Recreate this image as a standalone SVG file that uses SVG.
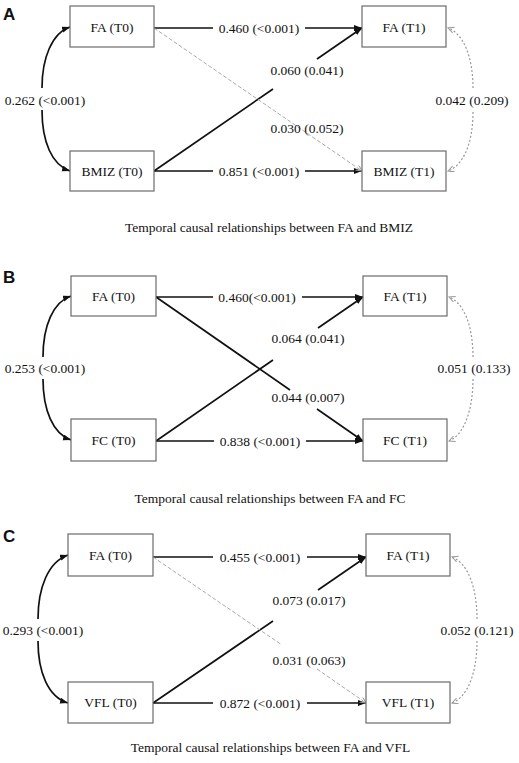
<svg xmlns="http://www.w3.org/2000/svg" width="519" height="763" viewBox="0 0 519 763">
<style>
.bg{fill:#fff}
.box{fill:#fff;stroke:#6b6b6b;stroke-width:1.2}
.t{font-family:"Liberation Serif","Times New Roman",serif;font-size:13.5px;text-anchor:middle;fill:#111}
.pl{font-family:"Liberation Sans",Arial,sans-serif;font-size:17px;font-weight:bold;fill:#111}
.s{fill:none;stroke:#111;stroke-width:1.7}
.d{fill:none;stroke:#aaa;stroke-width:1;stroke-dasharray:4 2}
.o{fill:none;stroke:#999;stroke-width:1.2;stroke-dasharray:2 2}
</style>
<defs>
<marker id="ah" markerUnits="userSpaceOnUse" markerWidth="9" markerHeight="7" refX="8" refY="3" orient="auto-start-reverse"><path d="M0,0 L8,3 L0,6 z" fill="#111"/></marker>
<marker id="ag" markerUnits="userSpaceOnUse" markerWidth="8" markerHeight="7" refX="6" refY="3" orient="auto-start-reverse"><path d="M0,0 L6,3 L0,6" fill="none" stroke="#999" stroke-width="1"/></marker>
</defs>
<rect class="bg" x="0" y="0" width="519" height="763"/>

<g id="connectors">
<!-- Panel A -->
<path class="s" d="M154,28 L213,28 M305,28 L362,28" marker-end="url(#ah)"/>
<path class="s" d="M154,171 L213,171 M305,171 L362,171" marker-end="url(#ah)"/>
<path class="s" d="M154,171 L273,89 M317,59 L362,28" marker-end="url(#ah)"/>
<path class="d" d="M154,28 L362,171" marker-end="url(#ag)"/>
<path class="s" d="M42,88 C42,58 52,33 70,27" marker-end="url(#ah)"/>
<path class="s" d="M42,110 C42,142 52,165 70,171" marker-end="url(#ah)"/>
<path class="o" d="M473,88 C473,58 464,34 448,28" marker-end="url(#ag)"/>
<path class="o" d="M473,112 C473,142 464,165 448,171" marker-end="url(#ag)"/>
<!-- Panel B -->
<path class="s" d="M156,297 L213,297 M302,297 L363,297" marker-end="url(#ah)"/>
<path class="s" d="M156,441 L214,441 M306,441 L363,441" marker-end="url(#ah)"/>
<path class="s" d="M156,441 L273,360 M318,328 L363,297" marker-end="url(#ah)"/>
<path class="s" d="M156,297 L290,390 M317,409 L363,441" marker-end="url(#ah)"/>
<path class="s" d="M43,357 C43,326 53,302 71,296" marker-end="url(#ah)"/>
<path class="s" d="M43,379 C43,410 53,434 71,440" marker-end="url(#ah)"/>
<path class="o" d="M473,357 C473,326 464,303 449,297" marker-end="url(#ag)"/>
<path class="o" d="M473,379 C473,410 464,435 449,441" marker-end="url(#ag)"/>
<!-- Panel C -->
<path class="s" d="M153,557 L213,557 M307,557 L366,557" marker-end="url(#ah)"/>
<path class="s" d="M153,703 L213,703 M307,703 L366,703" marker-end="url(#ah)"/>
<path class="s" d="M153,703 L273,621 M318,590 L366,557" marker-end="url(#ah)"/>
<path class="d" d="M153,557 L282,645 M317,669 L366,703" marker-end="url(#ag)"/>
<path class="s" d="M38,619 C38,588 48,562 68,555" marker-end="url(#ah)"/>
<path class="s" d="M38,641 C38,672 48,697 68,703" marker-end="url(#ah)"/>
<path class="o" d="M477,619 C477,588 468,563 452,557" marker-end="url(#ag)"/>
<path class="o" d="M477,641 C477,672 468,697 452,703" marker-end="url(#ag)"/>
</g>

<g id="edge-labels">
<text class="t" x="259" y="32.5">0.460 (&lt;0.001)</text>
<text class="t" x="259" y="175.5">0.851 (&lt;0.001)</text>
<text class="t" x="307" y="74.5">0.060 (0.041)</text>
<text class="t" x="307" y="132.5">0.030 (0.052)</text>
<text class="t" x="45" y="104.5">0.262 (&lt;0.001)</text>
<text class="t" x="472" y="104.5">0.042 (0.209)</text>

<text class="t" x="257" y="301.5">0.460(&lt;0.001)</text>
<text class="t" x="260" y="445.5">0.838 (&lt;0.001)</text>
<text class="t" x="308" y="342.5">0.064 (0.041)</text>
<text class="t" x="308" y="401.5">0.044 (0.007)</text>
<text class="t" x="45" y="372.5">0.253 (&lt;0.001)</text>
<text class="t" x="474" y="372.5">0.051 (0.133)</text>

<text class="t" x="260" y="561.5">0.455 (&lt;0.001)</text>
<text class="t" x="260" y="707.5">0.872 (&lt;0.001)</text>
<text class="t" x="309" y="604.5">0.073 (0.017)</text>
<text class="t" x="309" y="664.5">0.031 (0.063)</text>
<text class="t" x="43" y="634.5">0.293 (&lt;0.001)</text>
<text class="t" x="477" y="634.5">0.052 (0.121)</text>
</g>

<g id="panel-A">
<text class="pl" x="3" y="20">A</text>
<g id="A-FA-T0"><rect class="box" x="70" y="6" width="84" height="41"/><text class="t" x="112" y="31.5">FA (T0)</text></g>
<g id="A-BMIZ-T0"><rect class="box" x="70" y="151" width="84" height="40"/><text class="t" x="112" y="175.5">BMIZ (T0)</text></g>
<g id="A-FA-T1"><rect class="box" x="362" y="6" width="84" height="41"/><text class="t" x="404" y="31.5">FA (T1)</text></g>
<g id="A-BMIZ-T1"><rect class="box" x="362" y="151" width="84" height="40"/><text class="t" x="404" y="175.5">BMIZ (T1)</text></g>
<text class="t" x="269" y="231.5">Temporal causal relationships between FA and BMIZ</text>
</g>

<g id="panel-B">
<text class="pl" x="3" y="283">B</text>
<g id="B-FA-T0"><rect class="box" x="71" y="276" width="85" height="40"/><text class="t" x="113.5" y="300.5">FA (T0)</text></g>
<g id="B-FC-T0"><rect class="box" x="71" y="419" width="85" height="42"/><text class="t" x="113.5" y="444.5">FC (T0)</text></g>
<g id="B-FA-T1"><rect class="box" x="363" y="276" width="84" height="40"/><text class="t" x="405" y="300.5">FA (T1)</text></g>
<g id="B-FC-T1"><rect class="box" x="363" y="419" width="84" height="42"/><text class="t" x="405" y="444.5">FC (T1)</text></g>
<text class="t" x="270" y="502.5">Temporal causal relationships between FA and FC</text>
</g>

<g id="panel-C">
<text class="pl" x="3" y="542">C</text>
<g id="C-FA-T0"><rect class="box" x="68" y="534" width="85" height="42"/><text class="t" x="110.5" y="559.5">FA (T0)</text></g>
<g id="C-VFL-T0"><rect class="box" x="68" y="682" width="85" height="41"/><text class="t" x="110.5" y="707">VFL (T0)</text></g>
<g id="C-FA-T1"><rect class="box" x="366" y="534" width="84" height="42"/><text class="t" x="408" y="559.5">FA (T1)</text></g>
<g id="C-VFL-T1"><rect class="box" x="366" y="682" width="84" height="41"/><text class="t" x="408" y="707">VFL (T1)</text></g>
<text class="t" x="270.5" y="751.5">Temporal causal relationships between FA and VFL</text>
</g>
</svg>
